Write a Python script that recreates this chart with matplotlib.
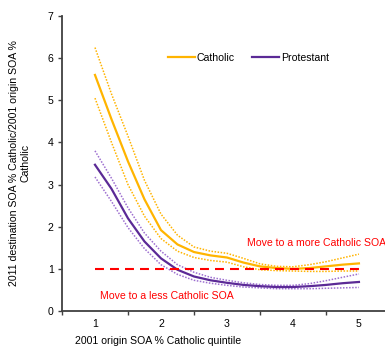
import numpy as np
import matplotlib
matplotlib.use("Agg")
import matplotlib.pyplot as plt

plt.rcParams['font.family'] = ['Liberation Sans', 'DejaVu Sans']

# values
x = [1.0, 1.25, 1.5, 1.75, 2.0, 2.25, 2.5, 2.75, 3.0, 3.25, 3.5, 3.75, 4.0, 4.25, 4.5, 4.75, 5.0]

cath = [5.6, 4.55, 3.55, 2.65, 1.92, 1.58, 1.4, 1.32, 1.27, 1.15, 1.06, 1.02, 1.0, 1.02, 1.06, 1.1, 1.13]
cath_hi = [6.25, 5.15, 4.15, 3.1, 2.3, 1.8, 1.52, 1.42, 1.37, 1.25, 1.12, 1.06, 1.05, 1.1, 1.17, 1.26, 1.35]
cath_lo = [5.05, 4.0, 3.0, 2.25, 1.72, 1.42, 1.27, 1.2, 1.16, 1.05, 0.98, 0.96, 0.95, 0.94, 0.94, 0.95, 0.95]

prot = [3.47, 2.9, 2.2, 1.65, 1.25, 0.98, 0.82, 0.73, 0.67, 0.62, 0.59, 0.57, 0.57, 0.59, 0.62, 0.66, 0.69]
prot_hi = [3.8, 3.15, 2.45, 1.85, 1.42, 1.1, 0.92, 0.8, 0.73, 0.67, 0.63, 0.61, 0.61, 0.65, 0.72, 0.8, 0.88]
prot_lo = [3.18, 2.6, 1.98, 1.48, 1.1, 0.87, 0.73, 0.66, 0.61, 0.57, 0.55, 0.53, 0.53, 0.53, 0.54, 0.55, 0.56]

quintiles = [1, 2, 3, 4, 5]
ref_level = 1

orange = '#FFB400'
purple = '#5B2A96'
purple_light = '#9D6FD0'
red = '#FF0000'
fs = 7.6

fig = plt.figure(figsize=(3.85, 3.46), dpi=100)
ax = fig.add_axes([0.161, 0.101, 0.857, 0.853])

ax.plot(x, cath_hi, color=orange, lw=1.1, linestyle=(0, (1, 1)))
ax.plot(x, cath_lo, color=orange, lw=1.1, linestyle=(0, (1, 1)))
ax.plot(x, cath, color=orange, lw=1.6, label='Catholic')
ax.plot(x, prot_hi, color=purple_light, lw=1.1, linestyle=(0, (1, 1)))
ax.plot(x, prot_lo, color=purple_light, lw=1.1, linestyle=(0, (1, 1)))
ax.plot(x, prot, color=purple, lw=1.6, label='Protestant')

ax.plot([quintiles[0], quintiles[-1]], [ref_level, ref_level], color=red, lw=1.5,
        dashes=(4.3, 2.9))

ax.text(3.31, 1.62, 'Move to a more Catholic SOA', color=red, fontsize=fs,
        va='center', ha='left', clip_on=False)
ax.text(1.07, 0.36, 'Move to a less Catholic SOA', color=red, fontsize=fs,
        va='center', ha='left')

ax.set_xlim(0.5, 5.5)
ax.set_ylim(0, 7)

ax.set_xticks(quintiles)
ax.set_xticks(np.arange(0.5, 6, 1), minor=True)
ax.tick_params(axis='x', which='major', length=0, pad=5.5, labelsize=fs)
ax.tick_params(axis='x', which='minor', length=3, width=1, color='#404040')
ax.set_yticks(range(0, 8))
ax.tick_params(axis='y', length=3, width=1, color='#404040', pad=3, labelsize=fs)

for side in ['top', 'right']:
    ax.spines[side].set_visible(False)
for side in ['left', 'bottom']:
    ax.spines[side].set_color('#404040')
    ax.spines[side].set_linewidth(1.3)

ax.set_xlabel('2001 origin SOA % Catholic quintile', fontsize=fs)
ax.xaxis.set_label_coords(0.292, -0.083)
ax.set_ylabel('2011 destination SOA % Catholic/2001 origin SOA %\nCatholic', fontsize=fs)
ax.yaxis.set_label_coords(-0.095, 0.5)

ax.legend(loc='center', bbox_to_anchor=(0.565, 0.857), ncol=2, frameon=False,
          fontsize=fs, handlelength=2.6, handletextpad=0.15, columnspacing=1.6)

fig.savefig('out.png', dpi=100)
